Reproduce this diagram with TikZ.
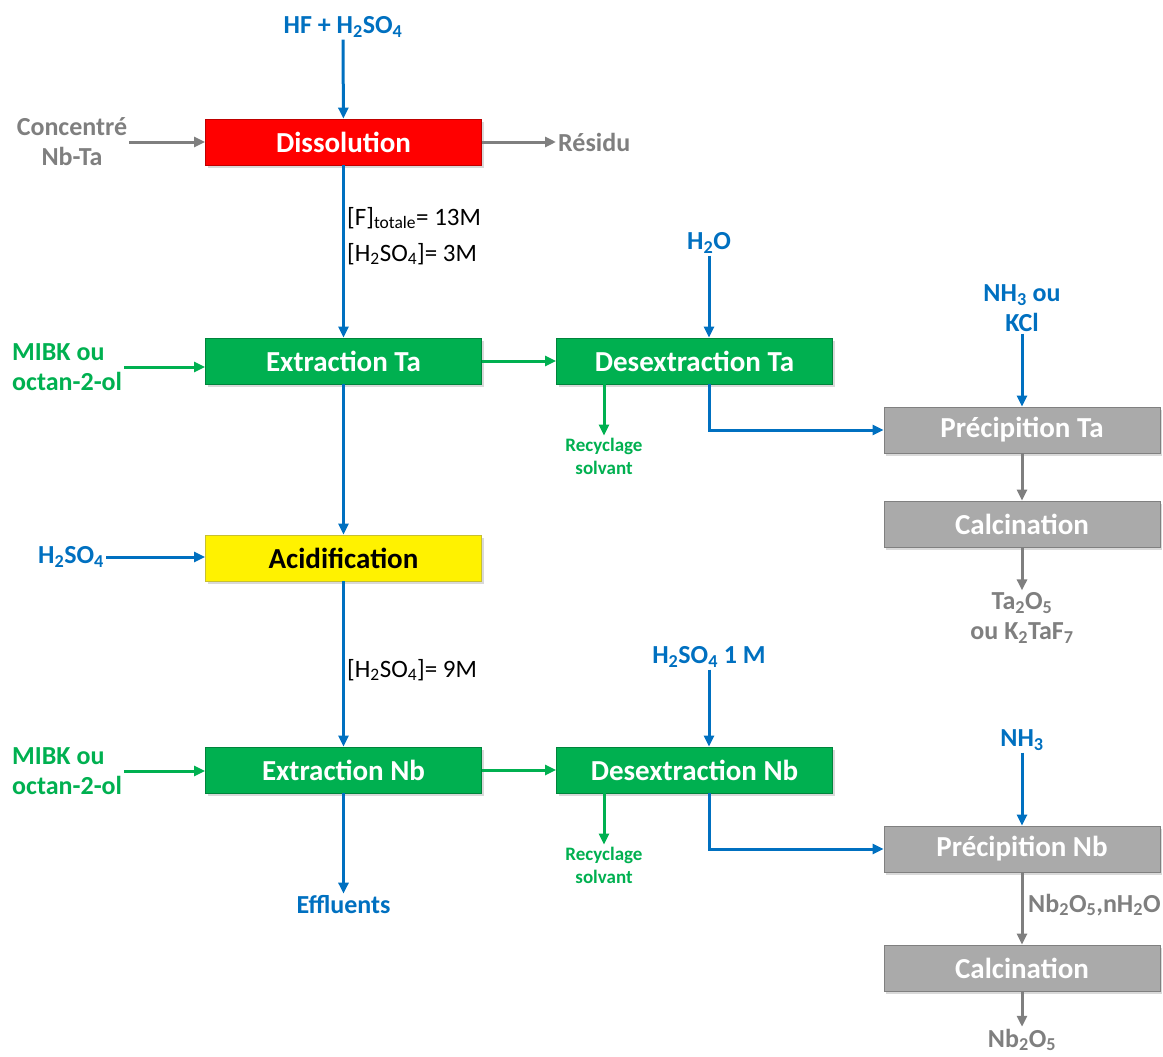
\documentclass[tikz,border=0pt]{standalone}
\usepackage{fontspec}
\setmainfont{Carlito}
\usetikzlibrary{arrows.meta,positioning,calc,shadows}
\definecolor{bleu}{RGB}{0,112,192}
\definecolor{vert}{RGB}{0,176,80}
\definecolor{gris}{RGB}{127,127,127}
\definecolor{grisbox}{RGB}{170,170,170}

\begin{document}
\begin{tikzpicture}[x=1pt,y=-1pt,
    procbox/.style={rectangle,draw=#1!75!black,fill=#1,line width=0.8pt,
      minimum width=276pt,minimum height=46pt,text=white,
      font=\fontsize{29}{32}\selectfont\bfseries,
      drop shadow={opacity=0.3,shadow xshift=2pt,shadow yshift=-3pt}},
    lbl/.style={text=#1,align=center,inner sep=2pt,
      font=\fontsize{26}{30}\selectfont\bfseries},
    small/.style={text=#1,align=center,inner sep=2pt,
      font=\fontsize{19}{23}\selectfont\bfseries},
    conc/.style={align=left,inner sep=0pt,anchor=west,
      font=\fontsize{25}{36}\selectfont},
    fl/.style={draw=#1,line width=3pt,-{Triangle[length=11pt,width=10pt]}}]
  \useasboundingbox (0,0) rectangle (1163,1057);

  % colonne de gauche
  \node[procbox=red] (diss) at (343.5,142) {Dissolution};
  \node[procbox=vert] (exta) at (343.5,361) {Extraction Ta};
  \node[procbox=yellow,text=black] (acid) at (343.5,558) {Acidification};
  \node[procbox=vert] (exnb) at (343.5,770) {Extraction Nb};

  \node[lbl=bleu] (hf) at (343,27) {HF + H\textsubscript{2}SO\textsubscript{4}};
  \node[lbl=gris] (conc) at (72,142) {Concentré\\Nb-Ta};
  \node[lbl=gris,anchor=west] (res) at (556,142) {Résidu};
  \node[lbl=vert,align=left,anchor=west] (mibkta) at (10,367) {MIBK ou\\octan-2-ol};
  \node[lbl=bleu] (acide) at (71,557) {H\textsubscript{2}SO\textsubscript{4}};
  \node[lbl=vert,align=left,anchor=west] (mibknb) at (10,771) {MIBK ou\\octan-2-ol};
  \node[lbl=bleu] (effl) at (343.5,905) {Effluents};

  \node[conc] (cdiss) at (347,236)
  {[F]\textsubscript{totale}= 13M\\{[}H\textsubscript{2}SO\textsubscript{4}{]}= 3M};
  \node[conc] (cacid) at (347,670) {{[}H\textsubscript{2}SO\textsubscript{4}{]}= 9M};

  \draw[fl=bleu] (hf) -- (diss);
  \draw[fl=gris] (conc.east |- diss.west) -- (diss.west);
  \draw[fl=gris] (diss) -- (res);
  \draw[fl=bleu] (diss) -- (exta);
  \draw[fl=vert] (mibkta.east) -- (mibkta.east -| exta.west);
  \draw[fl=bleu] (exta) -- (acid);
  \draw[fl=bleu] (acide.east) -- (acide.east -| acid.west);
  \draw[fl=bleu] (acid) -- (exnb);
  \draw[fl=vert] (mibknb.east) -- (mibknb.east -| exnb.west);
  \draw[fl=bleu] (exnb) -- (effl);

  % desextraction
  \node[procbox=vert] (desta) at (694.5,361) {Desextraction Ta};
  \node[procbox=vert] (desnb) at (694.5,770) {Desextraction Nb};
  \node[lbl=bleu] (eau) at (709,243) {H\textsubscript{2}O};
  \node[lbl=bleu] (acnb) at (709,657) {H\textsubscript{2}SO\textsubscript{4} 1 M};
  \node[small=vert] (recta) at (604,456) {Recyclage\\solvant};
  \node[small=vert] (recnb) at (604,865) {Recyclage\\solvant};

  \draw[fl=vert] (exta) -- (desta);
  \draw[fl=vert] (exnb) -- (desnb);
  \draw[fl=bleu] (eau) -- (eau |- desta.north);
  \draw[fl=bleu] (acnb) -- (acnb |- desnb.north);
  \draw[fl=vert] (recta.north |- desta.south) -- (recta.north);
  \draw[fl=vert] (recnb.north |- desnb.south) -- (recnb.north);

  % precipitation et calcination
  \node[procbox=grisbox] (precta) at (1022,430) {Précipition Ta};
  \node[procbox=grisbox] (calcta) at (1022,524) {Calcination};
  \node[procbox=grisbox] (precnb) at (1022,849) {Précipition Nb};
  \node[procbox=grisbox] (calcnb) at (1022,968) {Calcination};
  \node[lbl=bleu] (nhkcl) at (1022,308) {NH\textsubscript{3} ou\\KCl};
  \node[lbl=bleu] (nh) at (1022,740) {NH\textsubscript{3}};
  \node[lbl=gris] (taox) at (1022,618) {Ta\textsubscript{2}O\textsubscript{5}\\ou K\textsubscript{2}TaF\textsubscript{7}};
  \node[lbl=gris,anchor=west] (nbhyd) at (1026,905) {Nb\textsubscript{2}O\textsubscript{5},nH\textsubscript{2}O};
  \node[lbl=gris] (nbox) at (1022,1040) {Nb\textsubscript{2}O\textsubscript{5}};

  \draw[fl=bleu] (eau |- desta.south) |- (precta.west);
  \draw[fl=bleu] (acnb |- desnb.south) |- (precnb.west);
  \draw[fl=bleu] (nhkcl) -- (precta);
  \draw[fl=bleu] (nh) -- (precnb);
  \draw[fl=gris] (precta) -- (calcta);
  \draw[fl=gris] (calcta) -- (taox);
  \draw[fl=gris] (precnb) -- (calcnb);
  \draw[fl=gris] (calcnb) -- (nbox);
\end{tikzpicture}
\end{document}
